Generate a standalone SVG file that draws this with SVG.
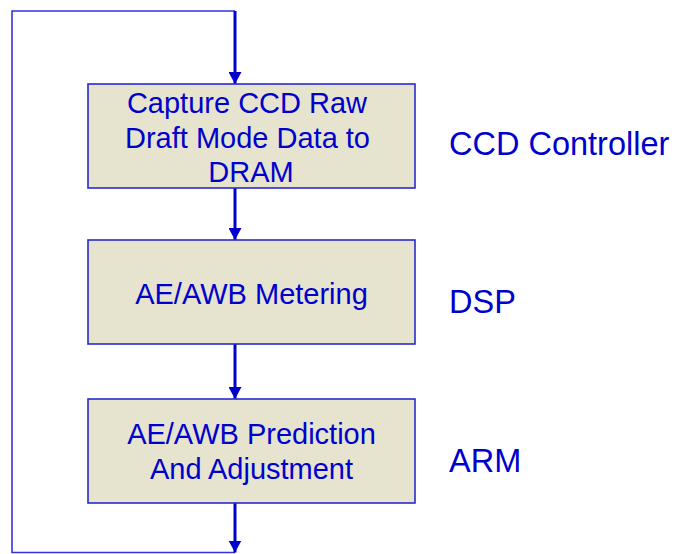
<svg xmlns="http://www.w3.org/2000/svg" width="675" height="554" viewBox="0 0 675 554">
  <defs>
    <marker id="arrow" viewBox="0 0 12 13" refX="12" refY="6.5" markerWidth="12" markerHeight="13" markerUnits="userSpaceOnUse" orient="auto">
      <path d="M0,0 L12,6.5 L0,13 Z" fill="#0000CC"/>
    </marker>
    <style>
      .box { fill: #E6E4CF; stroke: #2A2ACC; stroke-width: 1.6; }
      .txt { font-family: "Liberation Sans", Arial, sans-serif; font-size: 29px; fill: #0000CC; text-anchor: middle; }
      .lbl { font-family: "Liberation Sans", Arial, sans-serif; font-size: 32.5px; fill: #0000CC; }
      .flow { fill: none; stroke: #0000CC; stroke-width: 3; }
      .loop { fill: none; stroke: #3333DD; stroke-width: 1.6; }
    </style>
  </defs>
  <rect width="675" height="554" fill="#FFFFFF"/>

  <!-- connectors -->
  <g id="connectors">
    <path class="loop" d="M235,552.5 H12 V11 H235"/>
    <path class="flow" d="M235,11 V84" marker-end="url(#arrow)"/>
    <path class="flow" d="M235,188 V240" marker-end="url(#arrow)"/>
    <path class="flow" d="M235,344 V399" marker-end="url(#arrow)"/>
    <path class="flow" d="M235,503 V552.5" marker-end="url(#arrow)"/>
  </g>

  <!-- step 1 -->
  <g id="capture">
    <rect class="box" x="88" y="84" width="327" height="104"/>
    <text class="txt" x="247" y="112.5">Capture CCD Raw</text>
    <text class="txt" x="247.5" y="147.5">Draft Mode Data to</text>
    <text class="txt" x="251" y="182">DRAM</text>
  </g>

  <!-- step 2 -->
  <g id="metering">
    <rect class="box" x="88" y="240" width="327" height="104"/>
    <text class="txt" x="251.5" y="304.3">AE/AWB Metering</text>
  </g>

  <!-- step 3 -->
  <g id="prediction">
    <rect class="box" x="88" y="399" width="327" height="104"/>
    <text class="txt" x="251.5" y="444.3">AE/AWB Prediction</text>
    <text class="txt" x="251.5" y="479.3">And Adjustment</text>
  </g>

  <!-- processor labels -->
  <g id="labels">
    <text class="lbl" x="449" y="155">CCD Controller</text>
    <text class="lbl" x="449" y="313.3">DSP</text>
    <text class="lbl" x="449" y="472.3">ARM</text>
  </g>
</svg>
